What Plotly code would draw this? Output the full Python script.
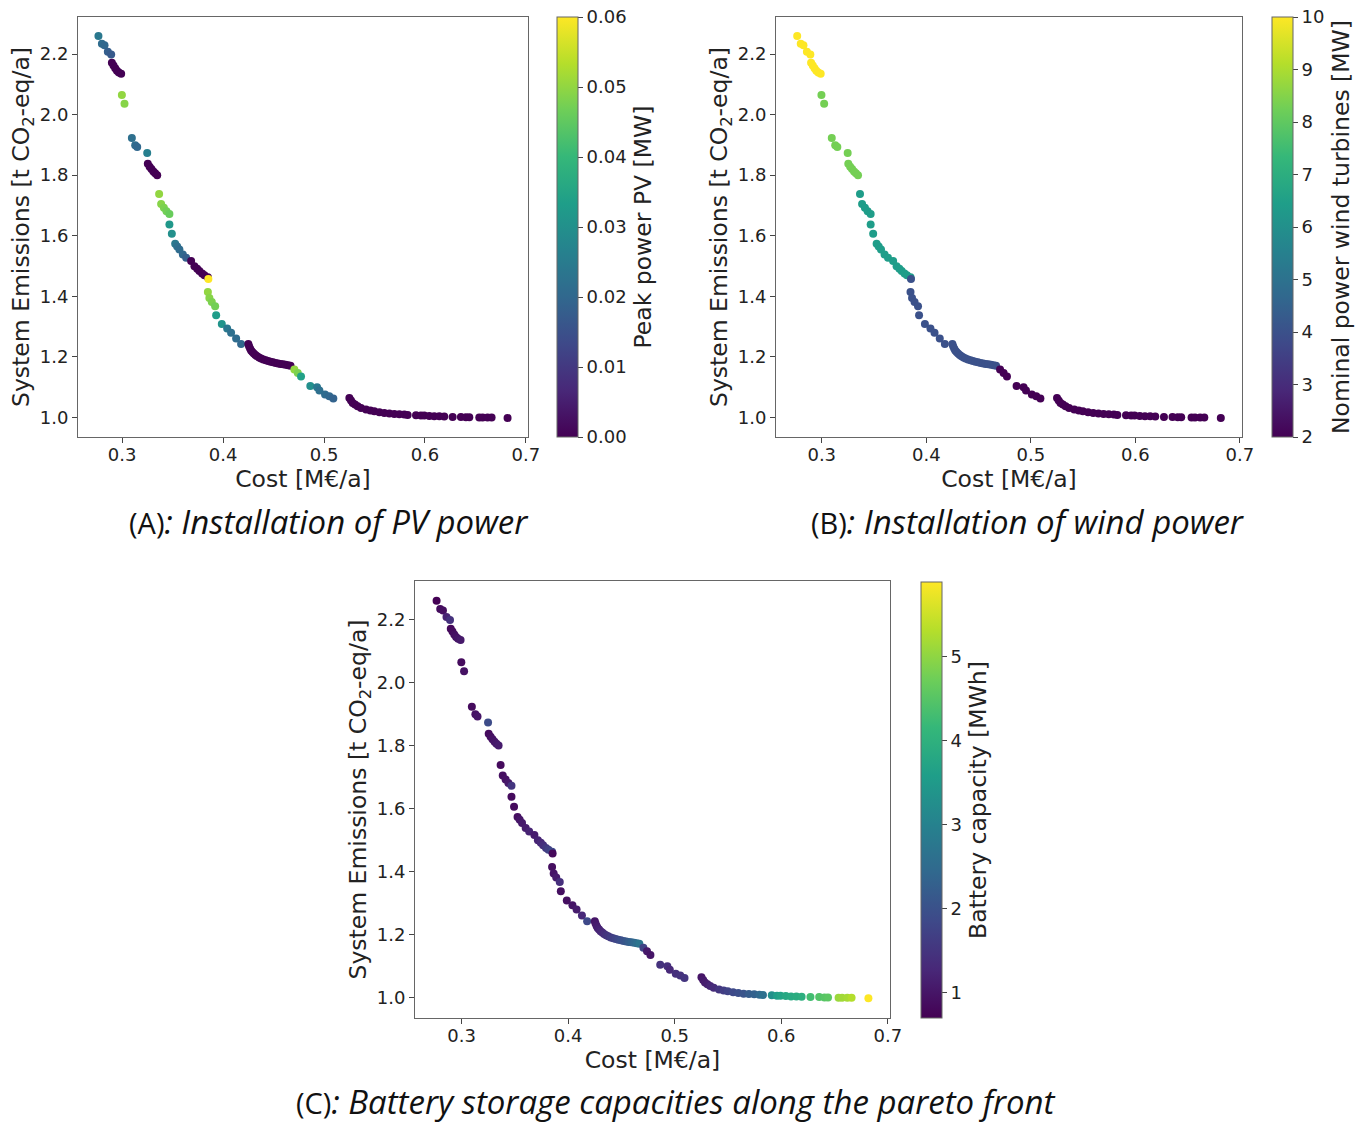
import plotly.graph_objects as go

# ---------------- data ----------------
cost = [
    # group 1
    0.2765, 0.2799, 0.2825, 0.2858, 0.2891, 0.2898, 0.2914, 0.2931, 0.2948, 0.2967, 0.2990,
    # group 2
    0.2997, 0.3023, 0.3096, 0.3129, 0.3149, 0.3248, 0.3254, 0.3272, 0.3290, 0.3309, 0.3327, 0.3347,
    # group 3
    0.3366, 0.3386, 0.3413, 0.3439, 0.3468, 0.3468, 0.3492, 0.3525, 0.3545, 0.3567, 0.3601, 0.3634,
    0.3683, 0.3716, 0.3743, 0.3765, 0.3792, 0.3815, 0.3849,
    0.3854,
    # group 4
    0.3849, 0.3864, 0.3888, 0.3921, 0.3931, 0.3987, 0.4040, 0.4079, 0.4129, 0.4178,
    0.4250, 0.4257, 0.4267, 0.4277, 0.4290, 0.4304, 0.4320, 0.4337, 0.4356, 0.4376, 0.4399,
    0.4423, 0.4446, 0.4470, 0.4495, 0.4520, 0.4545, 0.4569, 0.4594, 0.4619, 0.4644, 0.4668,
    # group 5
    0.4706, 0.4740, 0.4772, 0.4864, 0.4931, 0.4954, 0.5010, 0.5052, 0.5092,
    0.5251, 0.5267, 0.5284, 0.5307, 0.5333, 0.5366, 0.5416, 0.5459, 0.5498, 0.5548, 0.5597,
    0.5647, 0.5696, 0.5746, 0.5795, 0.5828, 0.5911, 0.5960, 0.5993, 0.6043, 0.6092, 0.6142,
    0.6191, 0.6274, 0.6356, 0.6406, 0.6439, 0.6538, 0.6571, 0.6620, 0.6660, 0.6818,
]
emissions = [
    2.2595, 2.2340, 2.2290, 2.2080, 2.1990, 2.1710, 2.1620, 2.1530, 2.1450, 2.1390, 2.1350,
    2.0645, 2.0357, 1.9230, 1.8990, 1.8926, 1.8730, 1.8374, 1.8280, 1.8200, 1.8120, 1.8060, 1.8000,
    1.7380, 1.7050, 1.6920, 1.6810, 1.6720, 1.6370, 1.6060, 1.5730, 1.5640, 1.5540, 1.5380, 1.5270,
    1.5160, 1.4990, 1.4910, 1.4830, 1.4750, 1.4690, 1.4630,
    1.4570,
    1.4140, 1.3940, 1.3810, 1.3670, 1.3370, 1.3080, 1.2930, 1.2790, 1.2600, 1.2420,
    1.2423, 1.2347, 1.2271, 1.2208, 1.2155, 1.2106, 1.2060, 1.2017, 1.1977, 1.1940, 1.1907,
    1.1881, 1.1858, 1.1835, 1.1815, 1.1795, 1.1779, 1.1762, 1.1749, 1.1736, 1.1722, 1.1702,
    1.1577, 1.1464, 1.1345, 1.1035, 1.0992, 1.0883, 1.0750, 1.0694, 1.0618,
    1.0639, 1.0551, 1.0474, 1.0419, 1.0364, 1.0309, 1.0254, 1.0220, 1.0198, 1.0165, 1.0143,
    1.0121, 1.0110, 1.0099, 1.0088, 1.0077, 1.0066, 1.0055, 1.0055, 1.0044, 1.0033, 1.0033,
    1.0022, 1.0011, 1.0011, 1.0000, 1.0000, 0.9989, 0.9989, 0.9989, 0.9989, 0.9978,
]
pv_peak = [
    0.024, 0.021, 0.020, 0.018, 0.017, 0, 0, 0, 0, 0, 0,
    0.050, 0.049, 0.022, 0.021, 0.020, 0.026, 0, 0, 0, 0, 0, 0,
    0.050, 0.049, 0.048, 0.047, 0.046, 0.032, 0.030, 0.024, 0.022, 0.021, 0.020, 0.018,
    0, 0, 0, 0, 0, 0, 0,
    0.060,
    0.050, 0.049, 0.048, 0.047, 0.033, 0.031, 0.024, 0.022, 0.021, 0.020,
    0, 0, 0, 0, 0, 0, 0, 0, 0, 0, 0,
    0, 0, 0, 0, 0, 0, 0, 0, 0, 0, 0,
    0.050, 0.048, 0.034, 0.030, 0.024, 0.022, 0.021, 0.020, 0.019,
    0, 0, 0, 0, 0, 0, 0, 0, 0, 0, 0,
    0, 0, 0, 0, 0, 0, 0, 0, 0, 0, 0,
    0, 0, 0, 0, 0, 0, 0, 0, 0, 0,
]
wind_power = (
    [10.0] * 11
    + [8.3] * 12
    + [6.4] * 19
    + [4.0] * 1
    + [4.0] * 32
    + [2.0] * 9
    + [2.0] * 32
)
battery = [
    0.70, 0.85, 0.90, 1.20, 1.45, 0.80, 0.85, 0.90, 0.95, 1.00, 1.05,
    0.85, 0.95, 0.85, 0.95, 1.00, 1.90, 0.85, 0.90, 0.95, 1.00, 1.05, 1.10,
    0.85, 0.90, 0.95, 1.05, 1.50, 0.85, 0.85, 0.90, 1.00, 1.05, 1.10, 1.20,
    1.10, 1.20, 1.30, 1.40, 1.55, 1.70, 1.85,
    0.80,
    0.90, 1.00, 1.10, 1.40, 0.90, 0.90, 1.00, 1.10, 1.30, 1.85,
    1.00, 1.05, 1.10, 1.15, 1.20, 1.25, 1.30, 1.38, 1.45, 1.52, 1.60,
    1.68, 1.76, 1.85, 1.94, 2.03, 2.12, 2.22, 2.32, 2.43, 2.55, 2.70,
    1.75, 1.05, 1.00, 1.45, 1.40, 1.30, 1.40, 1.45, 1.50,
    1.00, 1.05, 1.10, 1.15, 1.25, 1.35, 1.50, 1.65, 1.75, 1.85, 1.95,
    2.05, 2.20, 2.30, 2.45, 2.60, 3.30, 3.60, 3.70, 3.80, 3.85, 3.90,
    3.95, 4.30, 4.45, 4.50, 4.55, 5.10, 5.15, 5.20, 5.30, 5.89,
]

x_ticks = [0.3, 0.4, 0.5, 0.6, 0.7]
y_ticks = [1.0, 1.2, 1.4, 1.6, 1.8, 2.0, 2.2]
pv_ticks = [0.00, 0.01, 0.02, 0.03, 0.04, 0.05, 0.06]
wind_ticks = [2, 3, 4, 5, 6, 7, 8, 9, 10]
bat_ticks = [1, 2, 3, 4, 5]

x_title = "Cost [M€/a]"
y_title = "System Emissions [t CO<sub>2</sub>-eq/a]"
captions = [
    ("(A)", ": Installation of PV power"),
    ("(B)", ": Installation of wind power"),
    ("(C)", ": Battery storage capacities along the pareto front"),
]

# ---------------- layout geometry ----------------
W, H = 1365, 1123
AXF = "DejaVu Sans"
TXT = "#222222"
TITLE_SIZE = 23.5


def xd(a, b):
    return [a / W, b / W]


def yd(top, bottom):
    return [1 - bottom / H, 1 - top / H]


def pad_range(vals, frac=0.05):
    lo, hi = min(vals), max(vals)
    d = (hi - lo) * frac
    return [lo - d, hi + d]


xr = pad_range(cost)
yr = pad_range(emissions)

panels = [
    dict(x=(78, 528), y=(17, 437), cbx=557, cb=(17, 437), c=pv_peak, ticks=pv_ticks,
         fmt=".2f", title="Peak power PV [MW]"),
    dict(x=(776, 1242), y=(17, 437), cbx=1272, cb=(17, 437), c=wind_power, ticks=wind_ticks,
         fmt="d", title="Nominal power wind turbines [MW]"),
    dict(x=(415, 890), y=(581, 1018), cbx=921, cb=(582, 1018), c=battery, ticks=bat_ticks,
         fmt="d", title="Battery capacity [MWh]"),
]

fig = go.Figure()
layout = dict(
    width=W, height=H, margin=dict(l=0, r=0, t=0, b=0, autoexpand=False),
    paper_bgcolor="white", plot_bgcolor="white", showlegend=False,
    font=dict(family=AXF, color=TXT),
)

for i, p in enumerate(panels):
    n = "" if i == 0 else str(i + 1)
    cb_len = p["cb"][1] - p["cb"][0]
    cb_mid = (p["cb"][0] + p["cb"][1]) / 2
    fig.add_trace(go.Scatter(
        x=cost, y=emissions, mode="markers",
        xaxis="x" + n, yaxis="y" + n,
        marker=dict(
            size=8, color=p["c"], colorscale="Viridis",
            cmin=min(p["c"]), cmax=max(p["c"]),
            line=dict(width=0),
            colorbar=dict(
                x=p["cbx"] / W, xanchor="left", xpad=0, ypad=0,
                y=1 - cb_mid / H, yanchor="middle",
                len=cb_len, lenmode="pixels", thickness=21,
                outlinewidth=1, outlinecolor="#666666",
                tickvals=p["ticks"], tickformat=p["fmt"],
                ticks="outside", ticklen=5, tickcolor="#444444",
                tickfont=dict(size=18, family=AXF, color=TXT),
                title=dict(text=p["title"], side="right",
                           font=dict(size=TITLE_SIZE, family=AXF, color=TXT)),
            ),
        ),
        hoverinfo="skip",
    ))
    ax_common = dict(showline=True, mirror=True, linecolor="#666666", linewidth=1,
                     ticks="outside", ticklen=5, tickcolor="#444444",
                     showgrid=False, zeroline=False, automargin=False,
                     tickfont=dict(size=18, family=AXF, color=TXT))
    layout["xaxis" + n] = dict(
        domain=xd(*p["x"]), anchor="y" + n, range=xr,
        tickvals=x_ticks, tickformat=".1f", ticklabelstandoff=-4,
        title=dict(text=x_title, font=dict(size=TITLE_SIZE, family=AXF, color=TXT), standoff=2),
        **ax_common)
    layout["yaxis" + n] = dict(
        domain=yd(*p["y"]), anchor="x" + n, range=yr,
        tickvals=y_ticks, tickformat=".1f",
        title=dict(text=y_title, font=dict(size=TITLE_SIZE, family=AXF, color=TXT), standoff=3),
        **ax_common)

fig.update_layout(**layout)

cap_pos = [(329, 521), (1028, 521), (676, 1101)]
for (lab, txt), (cx, cy) in zip(captions, cap_pos):
    fig.add_annotation(
        text=f"<span style='font-size:29px'>{lab}</span><i>{txt}</i>",
        x=cx / W, y=1 - cy / H, xref="paper", yref="paper",
        xanchor="center", yanchor="middle", showarrow=False,
        font=dict(size=33, family="Open Sans", color="#111111"),
    )

post = "document.body.style.margin='0';document.body.style.overflow='hidden';"
fig.write_html("out.html", post_script=post, config={"displayModeBar": False})
